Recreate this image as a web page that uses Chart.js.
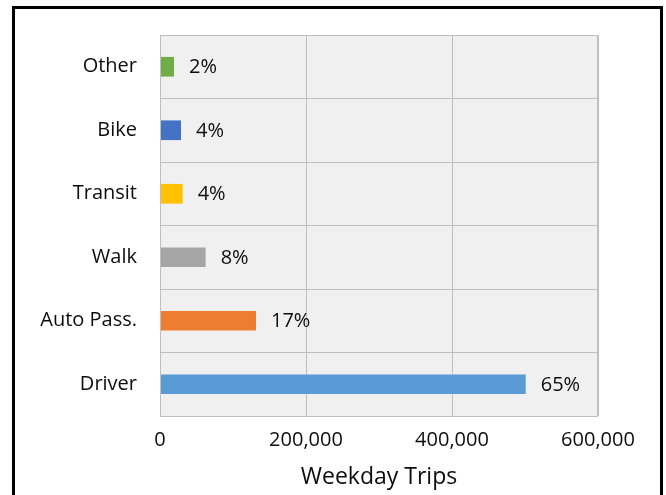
<!DOCTYPE html>
<html>
<head>
<meta charset="utf-8">
<script src="https://cdn.jsdelivr.net/npm/chart.js@4"></script>
<style>
    html, body { margin: 0; padding: 0; background: #ffffff; }
    #wrap { position: relative; width: 666px; height: 495px; }
</style>
</head>
<body>
<div id="wrap"><canvas id="chart" width="666" height="495"></canvas></div>
<script>
// Mode share of weekday trips
const modes = ['Other', 'Bike', 'Transit', 'Walk', 'Auto Pass.', 'Driver'];
const trips = [19200, 28800, 31000, 62500, 131500, 501000];
const shareLabels = ['2%', '4%', '4%', '8%', '17%', '65%'];
const barColors = ['#70ad47', '#4472c4', '#ffc000', '#a5a5a5', '#ed7d31', '#5b9bd5'];
const xTicks = [0, 200000, 400000, 600000];

const fontFamily = '"Open Sans", "Liberation Sans", sans-serif';
const textColor = '#0d0d0d';
const gridColor = '#bfbfbf';

// plot background + outer frame
const framePlugin = {
    id: 'frame',
    beforeDraw(chart) {
        const { ctx, chartArea: a } = chart;
        ctx.save();
        ctx.fillStyle = '#f0f0f0';
        ctx.fillRect(a.left, a.top, a.right - a.left, a.bottom - a.top);
        ctx.restore();
    },
    afterDraw(chart) {
        const { ctx, chartArea: a } = chart;
        ctx.save();
        ctx.strokeStyle = gridColor;
        ctx.lineWidth = 1;
        ctx.strokeRect(a.left + 0.5, a.top + 0.5, a.right - a.left - 1, a.bottom - a.top);
        // black frame around the whole figure (open at the bottom)
        ctx.strokeStyle = '#000000';
        ctx.lineWidth = 3;
        ctx.strokeRect(13.5, 7.5, 648, 520);
        ctx.restore();
    }
};

// percentage labels at the end of each bar
const shareLabelPlugin = {
    id: 'shareLabels',
    afterDatasetsDraw(chart) {
        const { ctx } = chart;
        const meta = chart.getDatasetMeta(0);
        ctx.save();
        ctx.font = '20px ' + fontFamily;
        ctx.fillStyle = textColor;
        ctx.textAlign = 'left';
        ctx.textBaseline = 'middle';
        meta.data.forEach((bar, i) => {
            ctx.fillText(shareLabels[i], bar.x + 15, bar.y + 1);
        });
        ctx.restore();
    }
};

new Chart(document.getElementById('chart'), {
    type: 'bar',
    data: {
        labels: modes,
        datasets: [{
            data: trips,
            backgroundColor: barColors,
            borderWidth: 0,
            categoryPercentage: 1,
            barPercentage: 0.31
        }]
    },
    options: {
        indexAxis: 'y',
        responsive: false,
        animation: false,
        layout: { padding: { left: 0, top: 35, right: 68, bottom: 0 } },
        plugins: {
            legend: { display: false },
            tooltip: { enabled: false }
        },
        scales: {
            x: {
                min: 0,
                max: 600000,
                afterBuildTicks: (axis) => { axis.ticks = xTicks.map(v => ({ value: v })); },
                afterFit: (axis) => { axis.height = 79; },
                grid: { color: gridColor, drawTicks: false },
                border: { display: false },
                ticks: {
                    color: textColor,
                    padding: 12,
                    font: { family: fontFamily, size: 20 },
                    callback: (v) => v.toLocaleString('en-US')
                },
                title: {
                    display: true,
                    text: 'Weekday Trips',
                    color: textColor,
                    font: { family: fontFamily, size: 23 },
                    padding: { top: 4, bottom: 4 }
                }
            },
            y: {
                afterFit: (axis) => { axis.width = 160; },
                grid: { color: gridColor, offset: true, drawTicks: false },
                border: { display: false },
                ticks: {
                    color: textColor,
                    padding: 23,
                    font: { family: fontFamily, size: 20 }
                }
            }
        }
    },
    plugins: [framePlugin, shareLabelPlugin]
});
</script>
</body>
</html>
